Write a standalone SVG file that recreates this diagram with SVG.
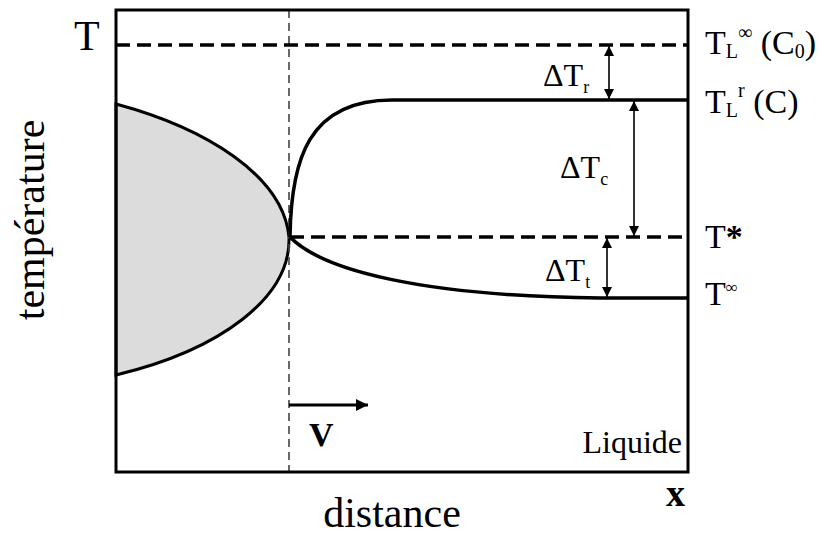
<svg xmlns="http://www.w3.org/2000/svg" width="821" height="537" viewBox="0 0 821 537">
<defs>
<style>
text{font-family:"Liberation Serif","Times New Roman",serif;fill:#000}
.dash{stroke:#000;stroke-width:3.5;stroke-dasharray:14,7;fill:none}
.solid{stroke:#000;stroke-width:3.5;fill:none}
.arr{stroke:#000;stroke-width:1.6;fill:none}
</style>
<marker id="ah" viewBox="0 0 10 10" refX="10" refY="5" markerWidth="10" markerHeight="10" markerUnits="userSpaceOnUse" orient="auto-start-reverse">
<path d="M0,0 L10,5 L0,10 Z" fill="#000"/>
</marker>
<marker id="ahv" viewBox="0 0 10 10" refX="10" refY="5" markerWidth="14" markerHeight="12" markerUnits="userSpaceOnUse" orient="auto">
<path d="M0,0 L10,5 L0,10 Z" fill="#000"/>
</marker>
</defs>
<rect width="821" height="537" fill="#fff"/>
<g id="solid-region">
<path d="M116,104 C205,128 283,175 289,237 C291,298 220,350 116,375 Z" fill="#dcdcdc" stroke="#000" stroke-width="3"/>
</g>
<g id="interface">
<line x1="289" y1="10" x2="289" y2="472" stroke="#444" stroke-width="1.6" stroke-dasharray="8,5"/>
</g>
<g id="frame">
<rect x="116" y="10" width="572" height="462" fill="none" stroke="#000" stroke-width="3"/>
</g>
<g id="connectors">
<line class="dash" x1="116" y1="45" x2="688" y2="45"/>
<path class="solid" d="M290,237 C291,160 308,100 392,100 L688,100"/>
<line class="dash" x1="290" y1="237" x2="688" y2="237"/>
<path class="solid" d="M290,237 C322,270 420,296 600,298 L688,298"/>
<line class="arr" x1="609" y1="46" x2="609" y2="99" marker-start="url(#ah)" marker-end="url(#ah)"/>
<line class="arr" x1="634" y1="101" x2="634" y2="236" marker-start="url(#ah)" marker-end="url(#ah)"/>
<line class="arr" x1="607" y1="238" x2="607" y2="297" marker-start="url(#ah)" marker-end="url(#ah)"/>
<line x1="289" y1="405" x2="368" y2="405" stroke="#000" stroke-width="3" marker-end="url(#ahv)"/>
</g>
<g id="labels">
<text x="74" y="50" font-size="42">T</text>
<text transform="translate(44,220) rotate(-90)" text-anchor="middle" font-size="42">température</text>
<text x="392" y="527" text-anchor="middle" font-size="42">distance</text>
<text x="666" y="506" font-size="38" font-weight="bold">x</text>
<text x="682" y="453" text-anchor="end" font-size="32">Liquide</text>
<text x="309" y="446" font-size="34" font-weight="bold">V</text>
<text x="543" y="86" font-size="32">ΔT<tspan font-size="18" dy="7">r</tspan></text>
<text x="560" y="178" font-size="32">ΔT<tspan font-size="18" dy="7">c</tspan></text>
<text x="545" y="281" font-size="32">ΔT<tspan font-size="18" dy="7">t</tspan></text>
<text x="705" y="54" font-size="34">T<tspan font-size="20" dy="4">L</tspan><tspan font-size="20" dy="-19">∞</tspan><tspan dy="15"> (C</tspan><tspan font-size="20" dy="4">0</tspan><tspan dy="-4">)</tspan></text>
<text x="705" y="113" font-size="34">T<tspan font-size="20" dy="4">L</tspan><tspan font-size="20" dy="-20">r</tspan><tspan dy="16"> (C)</tspan></text>
<text x="705" y="248" font-size="34">T<tspan font-weight="bold">*</tspan></text>
<text x="705" y="305" font-size="34">T<tspan font-size="17" dy="-12">∞</tspan></text>
</g>
</svg>
